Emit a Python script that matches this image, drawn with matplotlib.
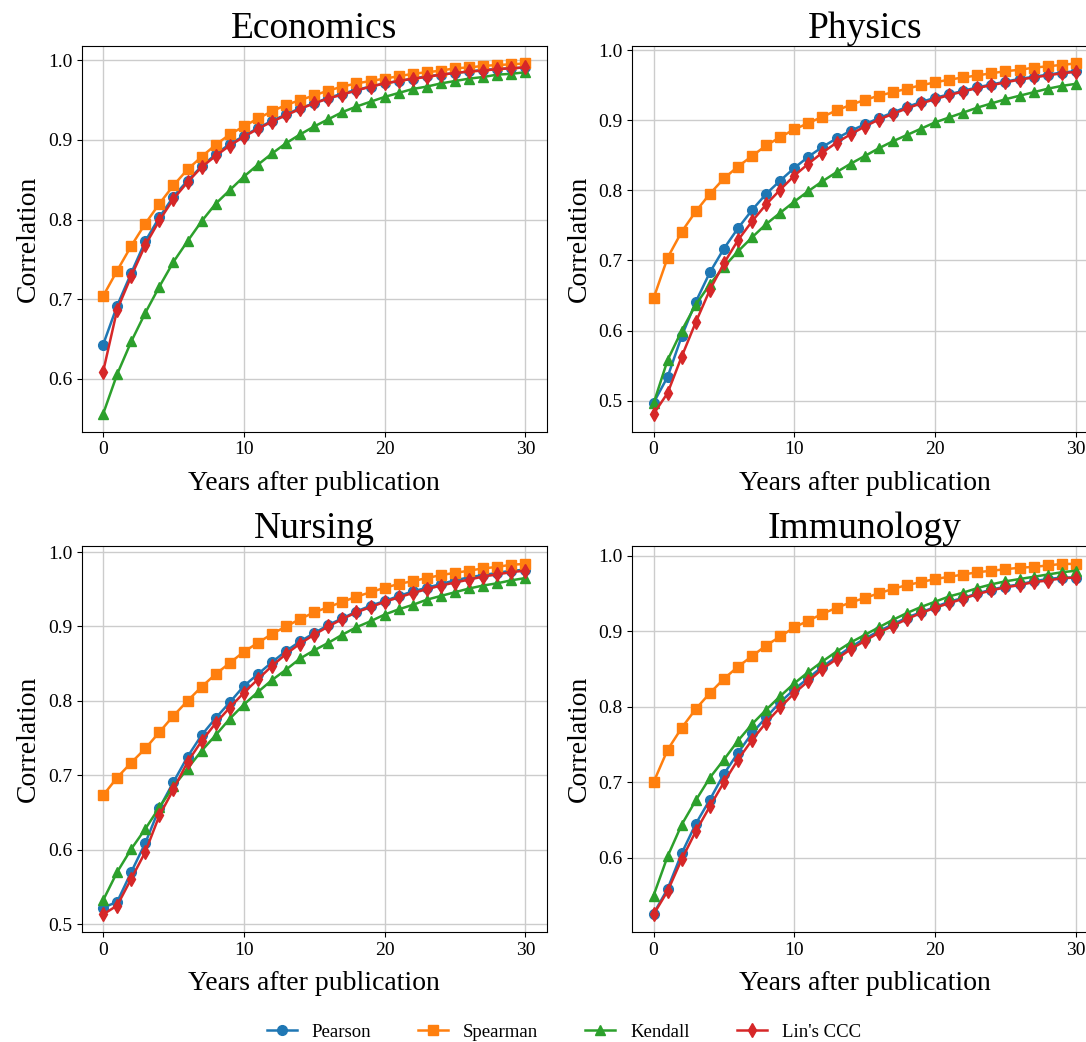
import numpy as np
import matplotlib
matplotlib.use("Agg")
import matplotlib.pyplot as plt

plt.rcParams["font.family"] = ["Liberation Serif", "DejaVu Serif"]

# DATA
years = np.arange(0, 31)

fields = ["Economics", "Physics", "Nursing", "Immunology"]

econ_pearson = [0.643, 0.692, 0.733, 0.773, 0.803, 0.829, 0.849, 0.867, 0.882, 0.895, 0.905,
                0.915, 0.924, 0.932, 0.940, 0.946, 0.953, 0.958, 0.963, 0.967, 0.971,
                0.974, 0.977, 0.980, 0.982, 0.984, 0.986, 0.988, 0.989, 0.990, 0.991]
econ_spearman = [0.704, 0.736, 0.767, 0.795, 0.820, 0.843, 0.863, 0.879, 0.894, 0.907, 0.917,
                 0.927, 0.936, 0.944, 0.950, 0.956, 0.962, 0.967, 0.971, 0.974, 0.977,
                 0.980, 0.983, 0.985, 0.987, 0.990, 0.991, 0.993, 0.994, 0.995, 0.996]
econ_kendall = [0.556, 0.606, 0.647, 0.683, 0.716, 0.747, 0.773, 0.798, 0.820, 0.837, 0.854,
                0.869, 0.883, 0.896, 0.907, 0.917, 0.926, 0.935, 0.942, 0.948, 0.954,
                0.959, 0.964, 0.967, 0.971, 0.974, 0.977, 0.979, 0.982, 0.983, 0.985]
econ_lin = [0.609, 0.687, 0.729, 0.768, 0.799, 0.826, 0.847, 0.866, 0.880, 0.893, 0.904,
            0.914, 0.923, 0.931, 0.939, 0.946, 0.952, 0.957, 0.962, 0.967, 0.971,
            0.974, 0.977, 0.979, 0.982, 0.984, 0.986, 0.987, 0.989, 0.990, 0.991]

phys_pearson = [0.497, 0.534, 0.592, 0.641, 0.683, 0.717, 0.746, 0.772, 0.795, 0.814, 0.832,
                0.848, 0.862, 0.874, 0.885, 0.894, 0.903, 0.911, 0.919, 0.926, 0.932,
                0.937, 0.942, 0.947, 0.951, 0.955, 0.959, 0.962, 0.965, 0.968, 0.970]
phys_spearman = [0.646, 0.704, 0.741, 0.770, 0.795, 0.817, 0.834, 0.849, 0.864, 0.876, 0.887,
                 0.896, 0.905, 0.914, 0.922, 0.929, 0.935, 0.940, 0.945, 0.950, 0.954,
                 0.958, 0.961, 0.964, 0.967, 0.970, 0.972, 0.975, 0.977, 0.979, 0.981]
phys_kendall = [0.496, 0.558, 0.600, 0.637, 0.666, 0.691, 0.713, 0.733, 0.752, 0.768, 0.784,
                0.799, 0.813, 0.826, 0.838, 0.849, 0.860, 0.870, 0.879, 0.888, 0.897,
                0.904, 0.911, 0.918, 0.924, 0.930, 0.935, 0.940, 0.945, 0.949, 0.952]
phys_lin = [0.481, 0.511, 0.563, 0.612, 0.658, 0.696, 0.729, 0.756, 0.780, 0.801, 0.821,
            0.838, 0.854, 0.868, 0.880, 0.891, 0.901, 0.909, 0.917, 0.924, 0.930,
            0.936, 0.941, 0.946, 0.950, 0.954, 0.958, 0.961, 0.964, 0.967, 0.969]

nurs_pearson = [0.522, 0.530, 0.570, 0.609, 0.656, 0.691, 0.725, 0.754, 0.777, 0.798, 0.820,
                0.836, 0.852, 0.867, 0.880, 0.891, 0.902, 0.911, 0.920, 0.928, 0.934,
                0.941, 0.947, 0.952, 0.957, 0.962, 0.966, 0.969, 0.972, 0.975, 0.976]
nurs_spearman = [0.673, 0.697, 0.717, 0.736, 0.758, 0.780, 0.800, 0.819, 0.836, 0.851, 0.866,
                 0.878, 0.890, 0.900, 0.910, 0.919, 0.926, 0.933, 0.940, 0.946, 0.952,
                 0.957, 0.961, 0.965, 0.969, 0.972, 0.975, 0.978, 0.980, 0.983, 0.984]
nurs_kendall = [0.532, 0.570, 0.601, 0.628, 0.657, 0.685, 0.709, 0.733, 0.754, 0.776, 0.795,
                0.812, 0.828, 0.842, 0.857, 0.868, 0.878, 0.889, 0.899, 0.907, 0.916,
                0.923, 0.929, 0.936, 0.941, 0.946, 0.951, 0.955, 0.958, 0.962, 0.965]
nurs_lin = [0.513, 0.525, 0.561, 0.597, 0.646, 0.681, 0.718, 0.746, 0.770, 0.791, 0.811,
            0.829, 0.847, 0.863, 0.877, 0.889, 0.900, 0.910, 0.919, 0.926, 0.933,
            0.939, 0.945, 0.950, 0.955, 0.959, 0.963, 0.967, 0.970, 0.973, 0.975]

immu_pearson = [0.526, 0.559, 0.606, 0.645, 0.677, 0.711, 0.739, 0.765, 0.786, 0.806, 0.823,
                0.838, 0.853, 0.866, 0.879, 0.890, 0.900, 0.909, 0.918, 0.925, 0.932,
                0.939, 0.944, 0.950, 0.955, 0.959, 0.962, 0.966, 0.969, 0.971, 0.971]
immu_spearman = [0.700, 0.743, 0.772, 0.797, 0.818, 0.837, 0.853, 0.867, 0.881, 0.893, 0.905,
                 0.914, 0.923, 0.931, 0.938, 0.944, 0.950, 0.956, 0.961, 0.965, 0.969,
                 0.972, 0.975, 0.978, 0.980, 0.982, 0.984, 0.985, 0.987, 0.989, 0.989]
immu_kendall = [0.550, 0.602, 0.644, 0.676, 0.706, 0.730, 0.755, 0.777, 0.796, 0.814, 0.831,
                0.846, 0.860, 0.873, 0.885, 0.895, 0.905, 0.915, 0.924, 0.932, 0.939,
                0.946, 0.951, 0.957, 0.962, 0.966, 0.969, 0.972, 0.975, 0.978, 0.980]
immu_lin = [0.525, 0.556, 0.598, 0.635, 0.668, 0.700, 0.730, 0.756, 0.779, 0.799, 0.818,
            0.834, 0.850, 0.863, 0.876, 0.887, 0.898, 0.907, 0.916, 0.924, 0.931,
            0.937, 0.943, 0.949, 0.954, 0.958, 0.961, 0.965, 0.967, 0.970, 0.971]

series = {
    "Economics": [econ_pearson, econ_spearman, econ_kendall, econ_lin],
    "Physics": [phys_pearson, phys_spearman, phys_kendall, phys_lin],
    "Nursing": [nurs_pearson, nurs_spearman, nurs_kendall, nurs_lin],
    "Immunology": [immu_pearson, immu_spearman, immu_kendall, immu_lin],
}

methods = ["Pearson", "Spearman", "Kendall", "Lin's CCC"]
colors = ["#1f77b4", "#ff7f0e", "#2ca02c", "#d62728"]
markers = ["o", "s", "^", "d"]


# PLOT
fig, axes = plt.subplots(2, 2, figsize=(10.86, 10.42), dpi=100)
# right panels run slightly past the figure edge, as in the cropped original
fig.subplots_adjust(left=0.0755, right=1.0101, top=0.9559, bottom=0.1056,
                    wspace=0.185, hspace=0.298)

for ax, field in zip(axes.flat, fields):

    for vals, name, c, m in zip(series[field], methods, colors, markers):
        ax.plot(years, vals, color=c, marker=m, markersize=7,
                linewidth=1.8, label=name)

    ax.set_title(field, fontsize=27, pad=1)
    ax.set_xlabel("Years after publication", fontsize=20, labelpad=9)
    ax.set_ylabel("Correlation", fontsize=20, labelpad=5)
    ax.tick_params(labelsize=14)
    ax.set_xticks([0, 10, 20, 30])
    ax.grid(True, color="#cccccc", linewidth=1)
    ax.set_axisbelow(True)

handles, labels = axes[0, 0].get_legend_handles_labels()
fig.legend(handles, labels, loc="lower center", ncol=4, frameon=False,
           fontsize=13.5, bbox_to_anchor=(0.519, -0.015), columnspacing=2.5,
           handlelength=1.6)

plt.savefig("out.png", dpi=100)
